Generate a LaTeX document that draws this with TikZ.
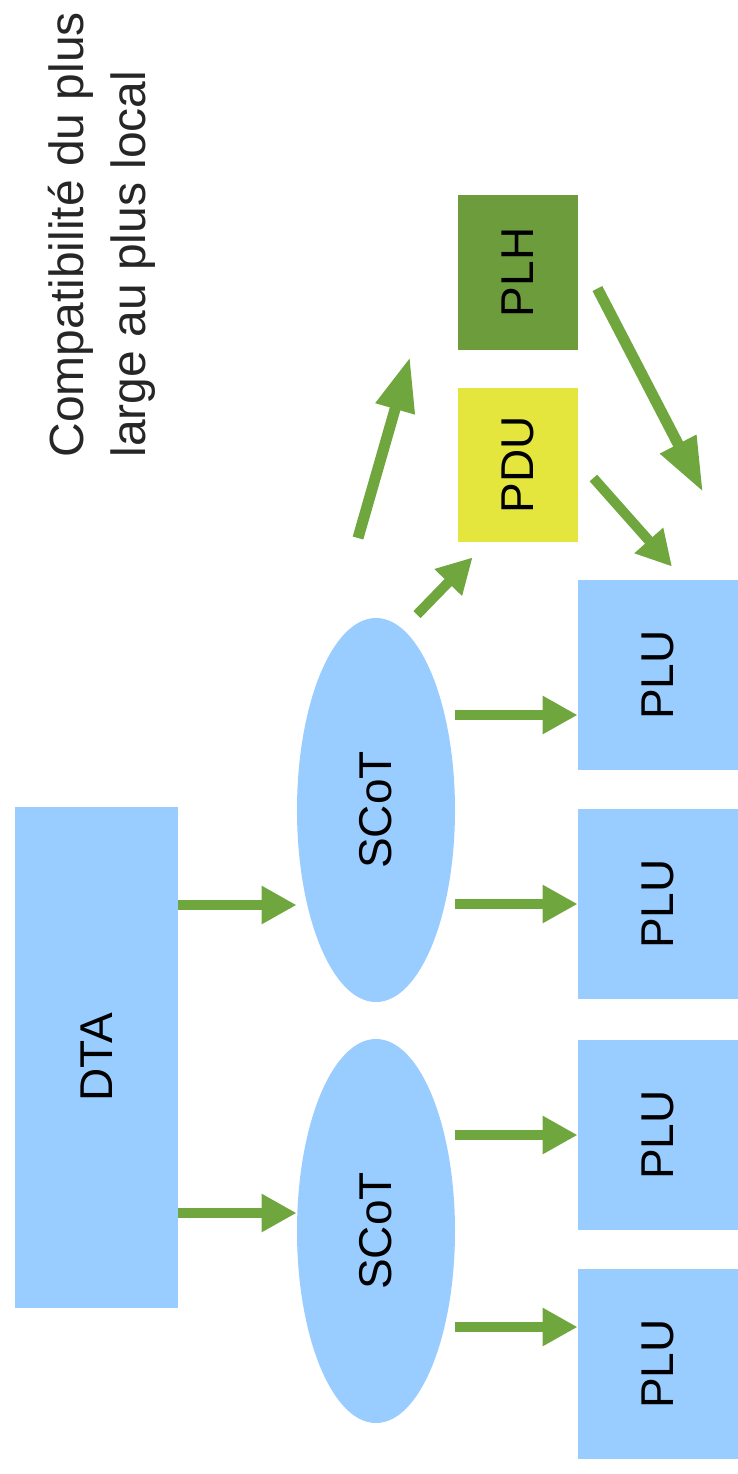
\documentclass[tikz,border=0pt]{standalone}
\usepackage{fontspec}
\setmainfont{Liberation Sans}
\usepackage{tikz}
\usetikzlibrary{shapes.geometric,arrows.meta,calc}
\definecolor{lblue}{RGB}{153,204,255}
\definecolor{agreen}{RGB}{112,166,62}
\definecolor{dgreen}{RGB}{108,156,60}
\definecolor{dyellow}{RGB}{228,230,62}

\begin{document}
\begin{tikzpicture}[x=50pt, y=-50pt,
  box/.style={fill=lblue, inner sep=0pt, font=\fontsize{23}{28}\selectfont},
  ttl/.style={rotate=90, anchor=base west, inner sep=0pt, text=black!85, font=\fontsize{24}{30}\selectfont},
  arr/.style={draw=agreen, line width=5pt, -{Triangle[length=17.5pt,width=18pt]}},
  bigarr/.style={arr, line width=5.5pt, -{Triangle[length=27pt,width=19pt]}}]
\useasboundingbox (0,0) rectangle (7.38,14.74);
% titre
\node[ttl] (title1) at (0.84,4.58) {Compatibilité du plus};
\node[ttl] (title2) at (1.45,4.58) {large au plus local};
% boites
\node[box, minimum width=81.5pt, minimum height=250.5pt] (dta) at (0.965,10.575) {\rotatebox{90}{DTA}};
\node[box, ellipse, minimum width=79pt, minimum height=192pt] (scot1) at (3.76,8.10) {\rotatebox{90}{SCoT}};
\node[box, ellipse, minimum width=79pt, minimum height=192pt] (scot2) at (3.76,12.31) {\rotatebox{90}{SCoT}};
\node[box, minimum width=80pt, minimum height=95pt] (plu1) at (6.58,6.75) {\rotatebox{90}{PLU}};
\node[box, minimum width=80pt, minimum height=95pt] (plu2) at (6.58,9.04) {\rotatebox{90}{PLU}};
\node[box, minimum width=80pt, minimum height=95pt] (plu3) at (6.58,11.35) {\rotatebox{90}{PLU}};
\node[box, minimum width=80pt, minimum height=95pt] (plu4) at (6.58,13.64) {\rotatebox{90}{PLU}};
\node[box, fill=dyellow, minimum width=60pt, minimum height=77pt] (pdu) at (5.18,4.65) {\rotatebox{90}{PDU}};
\node[box, fill=dgreen, minimum width=60pt, minimum height=77.5pt] (plh) at (5.18,2.725) {\rotatebox{90}{PLH}};
% fleches
\draw[arr] (dta.east |- 0,9.05) -- (scot1.west |- 0,9.05);
\draw[arr] (dta.east |- 0,12.13) -- (scot2.west |- 0,12.13);
\draw[arr] (scot1.east |- 0,7.15) -- (plu1.west |- 0,7.15);
\draw[arr] (scot1.east |- 0,9.04) -- (plu2.west |- 0,9.04);
\draw[arr] (scot2.east |- 0,11.35) -- (plu3.west |- 0,11.35);
\draw[arr] (scot2.east |- 0,13.27) -- (plu4.west |- 0,13.27);
\draw[arr] ($(scot1.north)+(0.41,-0.03)$) -- ($(pdu.south west)+(0.15,0.15)$);
\draw[arr] ($(pdu.east)+(0.15,0.13)$) -- ($(plu1.north)+(0.14,-0.13)$);
\coordinate (up0) at (3.58,5.38);
\coordinate (up1) at (4.10,3.57);
\draw[bigarr] (up0) -- (up1);
\coordinate (plhend) at (7.03,4.92);
\draw[bigarr] ($(plh.east)+(0.19,0.16)$) -- (plhend);
\end{tikzpicture}
\end{document}
